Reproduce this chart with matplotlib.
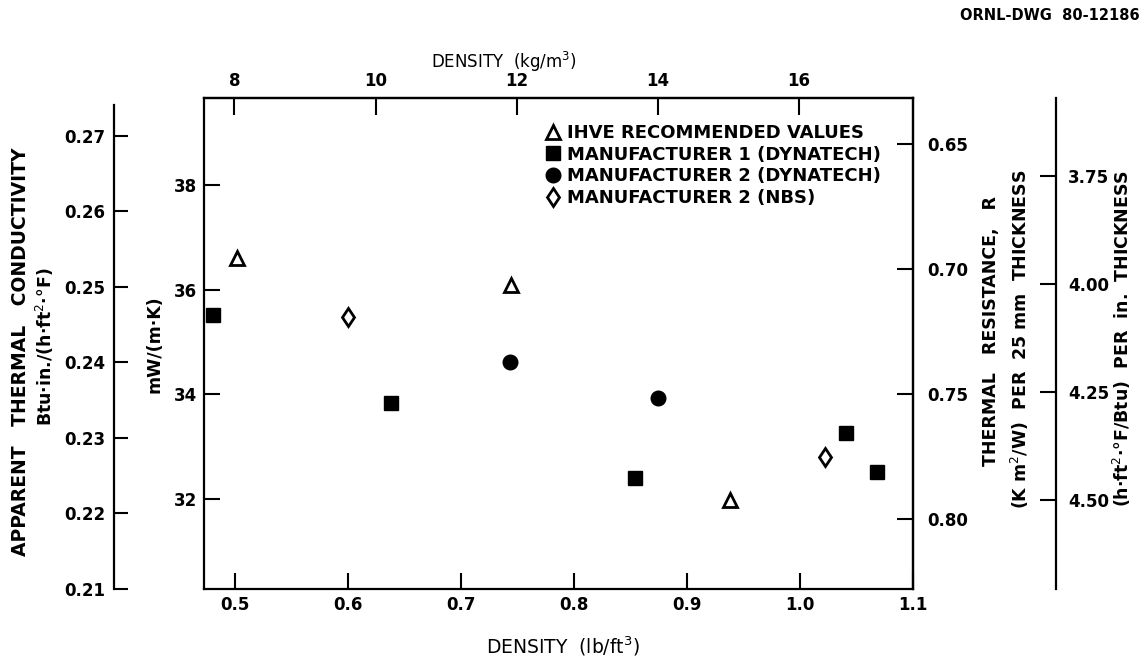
import matplotlib
matplotlib.use('Agg')
import matplotlib.pyplot as plt

plt.rcParams['font.family'] = 'DejaVu Sans'

# density (lb/ft3) and apparent conductivity mW/(m K)
ihve_x = [0.502, 0.744, 0.938]
ihve_y = [36.61, 36.09, 31.98]
m1_dyn_x = [0.480, 0.638, 0.854, 1.041, 1.068]
m1_dyn_y = [35.52, 33.84, 32.40, 33.26, 32.52]
m2_dyn_x = [0.743, 0.874]
m2_dyn_y = [34.62, 33.93]
m2_nbs_x = [0.600, 1.022]
m2_nbs_y = [35.48, 32.80]

series_labels = ['IHVE RECOMMENDED VALUES', 'MANUFACTURER 1 (DYNATECH)',
                 'MANUFACTURER 2 (DYNATECH)', 'MANUFACTURER 2 (NBS)']

x_ticks = [0.5, 0.6, 0.7, 0.8, 0.9, 1.0, 1.1]
kg_ticks = [8, 10, 12, 14, 16]
mw_ticks = [32, 34, 36, 38]
btu_ticks = [0.21, 0.22, 0.23, 0.24, 0.25, 0.26, 0.27]
r25_ticks = [0.65, 0.70, 0.75, 0.80]
rin_ticks = [3.75, 4.00, 4.25, 4.50]

LB_TO_KG = 16.0185
MW_PER_BTU = 144.228

fig = plt.figure(figsize=(11.47, 6.56), dpi=100)
ax = fig.add_axes([0.1779, 0.1021, 0.6182, 0.7485])

ax.plot(ihve_x, ihve_y, ls='none', marker='^', ms=10.5, mfc='white', mec='black', mew=2, label=series_labels[0])
ax.plot(m1_dyn_x, m1_dyn_y, ls='none', marker='s', ms=9.5, mfc='black', mec='black', label=series_labels[1])
ax.plot(m2_dyn_x, m2_dyn_y, ls='none', marker='o', ms=10.5, mfc='black', mec='black', label=series_labels[2])
ax.plot(m2_nbs_x, m2_nbs_y, ls='none', marker='d', ms=9.5, mfc='white', mec='black', mew=2, label=series_labels[3])

ax.set_xlim(0.4725, 1.097)
ax.set_ylim(30.28, 39.66)
ax.set_xticks(x_ticks)
ax.set_xticklabels([f'{v:.1f}' for v in x_ticks])
ax.set_yticks(mw_ticks)
ax.tick_params(direction='in', length=11.5, width=1.5, labelsize=12, pad=5, top=False, right=False)
for lab in ax.get_xticklabels() + ax.get_yticklabels():
    lab.set_fontweight('bold')
for s in ax.spines.values():
    s.set_linewidth(1.6)

leg = ax.legend(loc='upper left', bbox_to_anchor=(0.482, 0.947), frameon=False,
                prop={'size': 13, 'weight': 'bold'}, handlelength=0.75, handletextpad=0.4,
                labelspacing=0.2, borderpad=0, borderaxespad=0)

# top density axis in kg/m3
top = ax.secondary_xaxis('top', functions=(lambda x: x * LB_TO_KG, lambda x: x / LB_TO_KG))
top.set_xticks(kg_ticks)
top.tick_params(direction='in', length=12, width=1.5, labelsize=12, pad=6)
for lab in top.get_xticklabels():
    lab.set_fontweight('bold')
top.spines['top'].set_linewidth(1.6)

# far left axis, Btu in/(h ft2 F)
ax_btu = ax.twinx()
ax_btu.set_ylim(30.28 / MW_PER_BTU, 39.66 / MW_PER_BTU)
ax_btu.yaxis.set_ticks_position('left')
ax_btu.spines['left'].set_position(('axes', -0.127))
ax_btu.spines['left'].set_bounds(0.2099, 0.2741)
ax_btu.spines['left'].set_linewidth(1.6)
for k in ['right', 'top', 'bottom']:
    ax_btu.spines[k].set_visible(False)
ax_btu.set_yticks(btu_ticks)
ax_btu.set_yticklabels([f'{v:.2f}' for v in btu_ticks])
ax_btu.tick_params(direction='in', length=10, width=1.5, labelsize=12, pad=6)
for lab in ax_btu.get_yticklabels():
    lab.set_fontweight('bold')

# thermal resistance per 25 mm
ax_r = ax.twinx()
ax_r.set_ylim(0.828, 0.6316)
ax_r.set_yticks(r25_ticks)
ax_r.set_yticklabels([f'{v:.2f}' for v in r25_ticks])
ax_r.tick_params(direction='in', length=11.5, width=1.5, labelsize=12, pad=10)
for lab in ax_r.get_yticklabels():
    lab.set_fontweight('bold')
for k in ['left', 'top', 'bottom']:
    ax_r.spines[k].set_visible(False)
ax_r.spines['right'].set_linewidth(1.6)

# R per inch
ax_in = ax.twinx()
ax_in.set_ylim(4.706, 3.5694)
ax_in.spines['right'].set_position(('axes', 1.2017))
ax_in.spines['right'].set_linewidth(1.6)
for k in ['left', 'top', 'bottom']:
    ax_in.spines[k].set_visible(False)
ax_in.set_yticks(rin_ticks)
ax_in.set_yticklabels([f'{v:.2f}' for v in rin_ticks])
ax_in.tick_params(direction='in', length=11.5, width=1.5, labelsize=12, pad=8.5)
for lab in ax_in.get_yticklabels():
    lab.set_fontweight('bold')

# axis titles
fig.text(0.0183, 0.4634, 'APPARENT   THERMAL   CONDUCTIVITY', rotation=90, ha='center', va='center',
         fontsize=13.5, fontweight='bold')
fig.text(0.0392, 0.4710, 'Btu·in./(h·ft$^2$·°F)', rotation=90, ha='center', va='center',
         fontsize=12.5, fontweight='bold')
fig.text(0.1343, 0.4756, 'mW/(m·K)', rotation=90, ha='center', va='center',
         fontsize=12.5, fontweight='bold')
fig.text(0.8640, 0.4954, 'THERMAL   RESISTANCE,   R', rotation=90, ha='center', va='center',
         fontsize=12.5, fontweight='bold')
fig.text(0.8893, 0.4832, '(K m$^2$/W)  PER  25 mm  THICKNESS', rotation=90, ha='center', va='center',
         fontsize=12.5, fontweight='bold')
fig.text(0.9782, 0.4847, '(h·ft$^2$·°F/Btu)  PER  in.  THICKNESS', rotation=90, ha='center', va='center',
         fontsize=12.5, fontweight='bold')
fig.text(0.4394, 0.906, 'DENSITY  (kg/m$^3$)', ha='center', va='center', fontsize=12)
fig.text(0.4908, 0.0152, 'DENSITY  (lb/ft$^3$)', ha='center', va='center', fontsize=13.5)
fig.text(0.9939, 0.977, 'ORNL-DWG  80-12186', ha='right', va='center', fontsize=10.5, fontweight='bold')

fig.savefig('out.png', dpi=100)
